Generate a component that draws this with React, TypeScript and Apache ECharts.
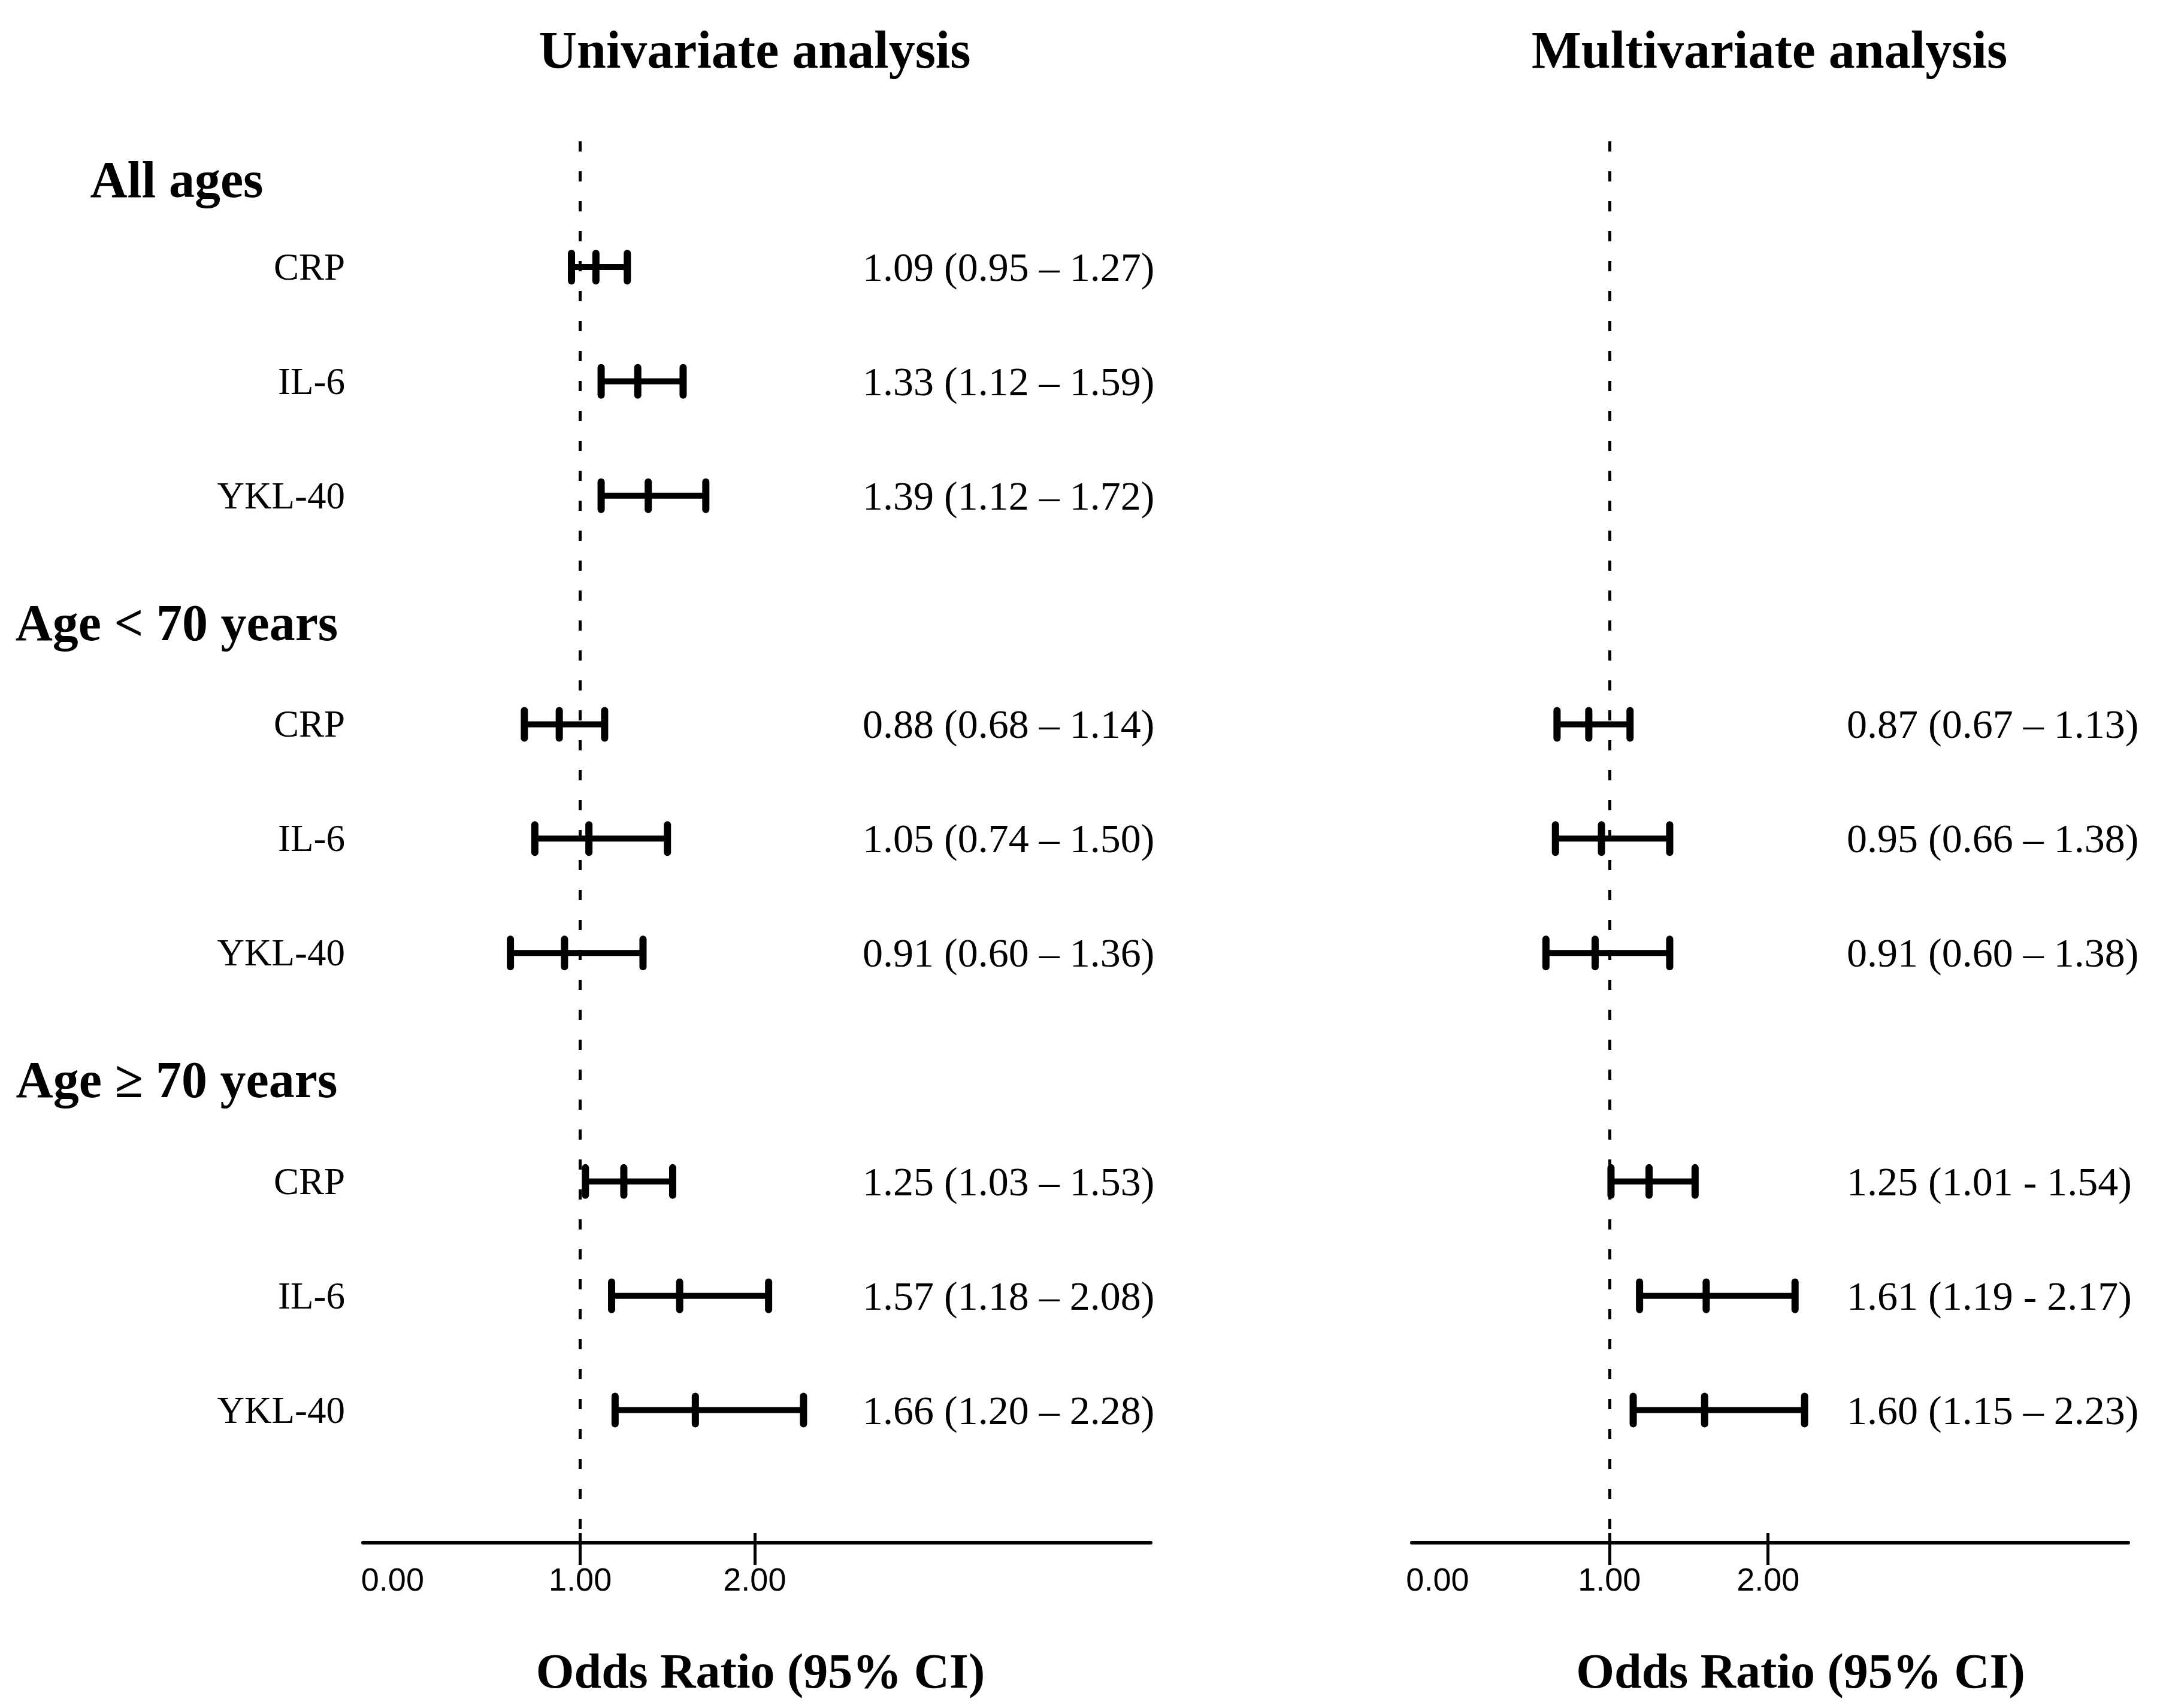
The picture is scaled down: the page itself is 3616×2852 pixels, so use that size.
import React, { useEffect, useRef } from "react";
import * as echarts from "echarts";

// Row layout (row index from top): group headers and markers
const rowLabels = [
  "All ages", "CRP", "IL-6", "YKL-40",
  "Age < 70 years", "CRP", "IL-6", "YKL-40",
  "Age ≥ 70 years", "CRP", "IL-6", "YKL-40",
];
const headerRows = [0, 4, 8];

// Univariate analysis
const uniRows = [1, 2, 3, 5, 6, 7, 9, 10, 11];
const uniOR = [1.09, 1.33, 1.39, 0.88, 1.05, 0.91, 1.25, 1.57, 1.66];
const uniLow = [0.95, 1.12, 1.12, 0.68, 0.74, 0.6, 1.03, 1.18, 1.2];
const uniHigh = [1.27, 1.59, 1.72, 1.14, 1.5, 1.36, 1.53, 2.08, 2.28];
const uniText = [
  "1.09 (0.95 – 1.27)", "1.33 (1.12 – 1.59)", "1.39 (1.12 – 1.72)",
  "0.88 (0.68 – 1.14)", "1.05 (0.74 – 1.50)", "0.91 (0.60 – 1.36)",
  "1.25 (1.03 – 1.53)", "1.57 (1.18 – 2.08)", "1.66 (1.20 – 2.28)",
];

// Multivariate analysis
const multiRows = [5, 6, 7, 9, 10, 11];
const multiOR = [0.87, 0.95, 0.91, 1.25, 1.61, 1.6];
const multiLow = [0.67, 0.66, 0.6, 1.01, 1.19, 1.15];
const multiHigh = [1.13, 1.38, 1.38, 1.54, 2.17, 2.23];
const multiText = [
  "0.87 (0.67 – 1.13)", "0.95 (0.66 – 1.38)", "0.91 (0.60 – 1.38)",
  "1.25 (1.01 - 1.54)", "1.61 (1.19 - 2.17)", "1.60 (1.15 – 2.23)",
];

// X axis
const xTickValues = [1, 2];
const xLabelValues = [0, 1, 2];
const xMin = -0.245;
const xMax = 4.27;
const refValue = 1;

const titles = ["Univariate analysis", "Multivariate analysis"];
const axisTitle = "Odds Ratio (95% CI)";

const SERIF = "'Liberation Serif', 'Times New Roman', serif";
const SANS = "'Liberation Sans', Arial, sans-serif";

const yMin = -0.1;
const yMax = 12.16;

function renderErrorBar(params: any, api: any) {
  const y = api.value(0);
  const lo = api.coord([api.value(1), y]);
  const mid = api.coord([api.value(2), y]);
  const hi = api.coord([api.value(3), y]);
  const h = 23;
  const hStyle = { stroke: "#000", lineWidth: 10, lineCap: "butt" };
  const vStyle = { stroke: "#000", lineWidth: 12, lineCap: "round" };
  const ln = (x1: number, y1: number, x2: number, y2: number, style: any) => ({
    type: "line",
    shape: { x1, y1, x2, y2 },
    style,
  });
  return {
    type: "group",
    children: [
      ln(lo[0], lo[1], hi[0], hi[1], hStyle),
      ln(lo[0], lo[1] - h, lo[0], lo[1] + h, vStyle),
      ln(mid[0], mid[1] - h, mid[0], mid[1] + h, vStyle),
      ln(hi[0], hi[1] - h, hi[0], hi[1] + h, vStyle),
    ],
  };
}

function xAxes(gridIndex: number, namePad: number) {
  return [
    {
      gridIndex,
      type: "value",
      position: "bottom",
      min: xMin,
      max: xMax,
      axisLine: { show: true, onZero: false, lineStyle: { color: "#000", width: 6 } },
      axisTick: {
        show: true,
        customValues: xTickValues,
        length: 37,
        lineStyle: { color: "#000", width: 5 },
      },
      axisLabel: {
        customValues: xLabelValues,
        margin: 34,
        fontFamily: SANS,
        fontSize: 54,
        color: "#000",
        formatter: (v: number) =>
          v === 0 ? "{z|" + v.toFixed(2) + "}" : v.toFixed(2),
        rich: { z: { padding: [0, 44, 0, 0] } },
      },
      splitLine: { show: false },
      name: axisTitle,
      nameLocation: "middle",
      nameGap: 173,
      nameTextStyle: {
        fontFamily: SERIF,
        fontWeight: "bold",
        fontSize: 82,
        color: "#000",
        padding: [0, 0, 0, namePad],
      },
    },
    {
      gridIndex,
      type: "value",
      position: "bottom",
      min: xMin,
      max: xMax,
      axisLine: { show: false, onZero: false },
      axisTick: {
        show: true,
        inside: true,
        customValues: xTickValues,
        length: 16,
        lineStyle: { color: "#000", width: 5 },
      },
      axisLabel: { show: false },
      splitLine: { show: false },
    },
  ];
}

function textAxis(gridIndex: number, offset: number, rows: number[], texts: string[]) {
  return {
    gridIndex,
    type: "value",
    inverse: true,
    position: "right",
    offset,
    min: yMin,
    max: yMax,
    axisLine: { show: false, onZero: false },
    axisTick: { show: false },
    splitLine: { show: false },
    axisLabel: {
      customValues: rows,
      margin: 0,
      fontFamily: SERIF,
      fontSize: 68,
      color: "#000",
      formatter: (v: number) => texts[rows.indexOf(v)] ?? "",
    },
  };
}

export default function App() {
  const ref = useRef<HTMLDivElement>(null);
  useEffect(() => {
    if (!ref.current) return;
    const chart = echarts.init(ref.current, null, { renderer: "svg" });
    const allRows = rowLabels.map((_, i) => i);
    const headerStyle = {
      fontFamily: SERIF,
      fontWeight: "bold",
      fontSize: 86,
      width: 562,
      align: "center",
      color: "#000",
    };
    const option: any = {
      animation: false,
      backgroundColor: "#fff",
      graphic: titles.map((t, i) => ({
        type: "text",
        x: i === 0 ? 1260 : 2954,
        y: 83,
        style: {
          text: t,
          fontFamily: SERIF,
          fontWeight: "bold",
          fontSize: 88,
          fill: "#000",
          align: "center",
          verticalAlign: "middle",
        },
      })),
      grid: [
        { left: 606, top: 236, width: 1315, height: 2340 },
        { left: 2357, top: 236, width: 1196, height: 2340 },
      ],
      xAxis: [...xAxes(0, 12), ...xAxes(1, 102)],
      yAxis: [
        {
          gridIndex: 0,
          type: "value",
          inverse: true,
          min: yMin,
          max: yMax,
          axisLine: { show: false, onZero: false },
          axisTick: { show: false },
          splitLine: { show: false },
          axisLabel: {
            customValues: allRows,
            margin: 30,
            fontFamily: SERIF,
            color: "#000",
            formatter: (v: number) => {
              const hi = headerRows.indexOf(v);
              if (hi === 0) return "{h0|" + rowLabels[v] + "}";
              if (hi > 0) return "{h|" + rowLabels[v] + "}";
              return "{r|" + rowLabels[v] + "}";
            },
            rich: {
              h0: { ...headerStyle, padding: [90, 0, 0, 0] },
              h: { ...headerStyle, padding: [42, 0, 0, 0] },
              r: { fontFamily: SERIF, fontSize: 63, color: "#000" },
            },
          },
        },
        textAxis(0, -481, uniRows, uniText),
        {
          gridIndex: 1,
          type: "value",
          inverse: true,
          min: yMin,
          max: yMax,
          axisLine: { show: false, onZero: false },
          axisTick: { show: false },
          splitLine: { show: false },
          axisLabel: { show: false },
        },
        textAxis(1, -470, multiRows, multiText),
      ],
      series: [0, 2].map((xi) => ({
        type: "line",
        xAxisIndex: xi,
        yAxisIndex: xi,
        data: [],
        z: 1,
        markLine: {
          silent: true,
          symbol: ["none", "none"],
          label: { show: false },
          lineStyle: { color: "#000", width: 5, type: [17, 33] },
          data: [{ xAxis: refValue }],
        },
      })).concat([
        {
          type: "custom",
          xAxisIndex: 0,
          yAxisIndex: 0,
          z: 3,
          renderItem: renderErrorBar,
          encode: { x: [1, 2, 3], y: 0 },
          data: uniRows.map((r, i) => [r, uniLow[i], uniOR[i], uniHigh[i]]),
        } as any,
        {
          type: "custom",
          xAxisIndex: 2,
          yAxisIndex: 2,
          z: 3,
          renderItem: renderErrorBar,
          encode: { x: [1, 2, 3], y: 0 },
          data: multiRows.map((r, i) => [r, multiLow[i], multiOR[i], multiHigh[i]]),
        } as any,
      ]),
    };
    chart.setOption(option);
    return () => chart.dispose();
  }, []);
  return (
    <div
      ref={ref}
      style={{ position: "absolute", left: 0, top: 0, width: 3616, height: 2852 }}
    />
  );
}
